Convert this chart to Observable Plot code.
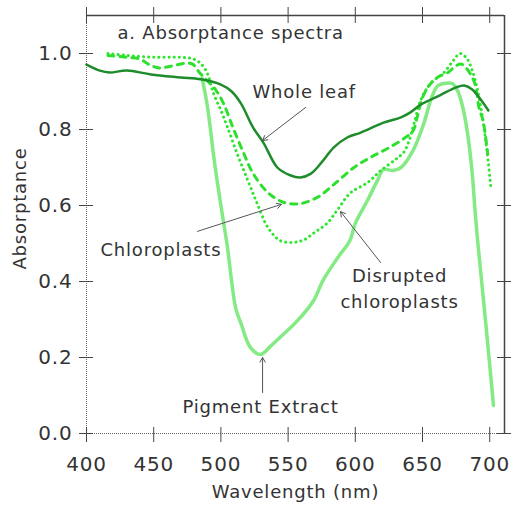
<!DOCTYPE html>
<html><head><meta charset="utf-8">
<script src="https://cdn.jsdelivr.net/npm/d3@7"></script>
<script src="https://cdn.jsdelivr.net/npm/@observablehq/plot@0.6"></script>
<style>body{margin:0;background:#fff}</style>
</head><body><div id="chart"></div>
<script>
const xTicks = [400, 450, 500, 550, 600, 650, 700];
const yTicks = [0, 0.2, 0.4, 0.6, 0.8, 1.0];
const xDomain = [400, 711];
const yDomain = [0, 1.1];

const wholeLeafNm = [400, 410, 417, 430, 448, 470, 485, 500, 508, 515, 524, 532, 542, 552, 559, 567, 576, 584, 594, 604, 621, 634, 641, 649, 663, 675, 681, 687, 693, 699];
const wholeLeafA  = [0.971, 0.955, 0.950, 0.955, 0.945, 0.937, 0.932, 0.918, 0.900, 0.868, 0.805, 0.763, 0.700, 0.679, 0.674, 0.684, 0.718, 0.753, 0.779, 0.792, 0.818, 0.832, 0.845, 0.866, 0.890, 0.911, 0.916, 0.905, 0.880, 0.850];

const chloroNm = [416, 430, 440, 446, 454, 462, 473, 479, 484, 490, 496, 502, 509, 517, 524, 535, 547, 559, 572, 584, 599, 611, 624, 636, 643, 646, 650, 655, 661, 669, 675, 679, 684, 689, 692, 695, 697, 698.5];
const chloroA  = [0.995, 0.99, 0.985, 0.972, 0.962, 0.966, 0.974, 0.972, 0.950, 0.928, 0.905, 0.868, 0.805, 0.737, 0.684, 0.634, 0.608, 0.605, 0.622, 0.655, 0.700, 0.726, 0.750, 0.776, 0.797, 0.832, 0.884, 0.916, 0.937, 0.950, 0.968, 0.972, 0.955, 0.920, 0.858, 0.824, 0.779, 0.737];

const disruptedNm = [416, 430, 450, 470, 480, 486, 490, 494.5, 500, 505, 512, 520, 527, 535, 544, 554, 562, 570, 579, 587, 596, 609, 619, 631, 636, 640, 644, 649, 656, 666, 673, 678, 683, 687, 691, 694.6, 697, 699, 701];
const disruptedA  = [1.0, 0.995, 0.99, 0.99, 0.985, 0.97, 0.947, 0.895, 0.850, 0.805, 0.737, 0.666, 0.605, 0.542, 0.508, 0.503, 0.510, 0.530, 0.553, 0.590, 0.632, 0.660, 0.692, 0.724, 0.740, 0.770, 0.820, 0.880, 0.921, 0.950, 0.982, 1.0, 0.987, 0.955, 0.903, 0.832, 0.771, 0.711, 0.640];

const pigmentNm = [486, 490, 495, 500, 505, 508, 511, 515, 522, 529.5, 537, 544, 557, 569, 576, 587, 596, 600, 609, 616.5, 621, 628, 634, 643, 651, 656, 661, 666, 672, 676, 680, 683.5, 687, 689, 691, 695.4, 699, 702.8];
const pigmentA  = [0.935, 0.86, 0.72, 0.60, 0.487, 0.40, 0.33, 0.289, 0.226, 0.208, 0.23, 0.253, 0.297, 0.35, 0.403, 0.463, 0.508, 0.553, 0.613, 0.666, 0.695, 0.692, 0.70, 0.745, 0.816, 0.876, 0.914, 0.921, 0.921, 0.903, 0.858, 0.79, 0.684, 0.59, 0.508, 0.35, 0.218, 0.074];

// labels drawn left-aligned
const startLabelText = ["a. Absorptance spectra", "Whole leaf", "Chloroplasts", "Pigment Extract"];
const startLabelNm   = [423, 523.5, 410.4, 471.4];
const startLabelA    = [1.053, 0.897, 0.482, 0.068];
// labels drawn centred
const midLabelText = ["Disrupted", "chloroplasts"];
const midLabelNm   = [632.9, 632.9];
const midLabelA    = [0.413, 0.345];

const arrowFromNm = [563, 482.6, 618.8, 531];
const arrowFromA  = [0.858, 0.532, 0.45, 0.108];
const arrowToNm   = [531, 545, 589, 531];
const arrowToA    = [0.771, 0.603, 0.584, 0.2];

const toRows = (nm, a) => nm.map((x, i) => ({x, y: a[i]}));
const toLabels = (t, nm, a) => t.map((s, i) => ({t: s, x: nm[i], y: a[i]}));
const arrows = arrowFromNm.map((x1, i) => ({x1, y1: arrowFromA[i], x2: arrowToNm[i], y2: arrowToA[i]}));

const W = 513, H = 510, ML = 86, MR = 9, MT = 15, MB = 77;
const frameW = W - ML - MR, frameH = H - MT - MB;
const ink = "#333", axisInk = "#444";
const chart = Plot.plot({
  width: W, height: H,
  marginLeft: ML, marginRight: MR, marginTop: MT, marginBottom: MB,
  style: {fontFamily: "DejaVu Sans", fontSize: "18px", letterSpacing: "0.8px", background: "#fff"},
  x: {domain: xDomain, axis: null},
  y: {domain: yDomain, axis: null},
  marks: [
    Plot.ruleX([xDomain[0]], {stroke: "#666", strokeDasharray: "1,1"}),
    Plot.ruleY([yDomain[0]], {stroke: "#666", strokeDasharray: "1,1"}),
    Plot.ruleX([xDomain[1]], {stroke: axisInk, strokeWidth: 1.5}),
    Plot.ruleY([yDomain[1]], {stroke: axisInk, strokeWidth: 1.5}),
    // crossing ticks on all four sides
    Plot.ruleX(xTicks, {stroke: axisInk, insetTop: frameH - 6, insetBottom: -9}),
    Plot.ruleX(xTicks, {stroke: axisInk, insetTop: -8, insetBottom: frameH - 8}),
    Plot.ruleY(yTicks, {stroke: axisInk, insetLeft: -7, insetRight: frameW - 7}),
    Plot.ruleY(yTicks, {stroke: axisInk, insetLeft: frameW - 7, insetRight: -7}),
    Plot.axisX(xTicks, {anchor: "bottom", tickSize: 0, tickPadding: 23, fontSize: 20, label: null, color: ink}),
    Plot.axisY(yTicks, {anchor: "left", tickSize: 0, tickPadding: 14, fontSize: 20, label: null, color: ink, tickFormat: d3.format(".1f")}),
    Plot.text(["Wavelength (nm)"], {frameAnchor: "bottom", textAnchor: "middle", lineAnchor: "middle", dy: 59, fontSize: 18, fill: ink}),
    Plot.text(["Absorptance"], {frameAnchor: "left", textAnchor: "middle", lineAnchor: "middle", dx: -66, dy: -16, rotate: -90, fontSize: 18, fill: ink}),
    Plot.line(toRows(pigmentNm, pigmentA), {x: "x", y: "y", stroke: "#84ea84", strokeWidth: 3.5, curve: "catmull-rom"}),
    Plot.line(toRows(disruptedNm, disruptedA), {x: "x", y: "y", stroke: "#2ee62e", strokeWidth: 3, strokeDasharray: "0.1,5", strokeLinecap: "round", curve: "catmull-rom"}),
    Plot.line(toRows(chloroNm, chloroA), {x: "x", y: "y", stroke: "#2ee02e", strokeWidth: 3, strokeDasharray: "6,6", curve: "catmull-rom"}),
    Plot.line(toRows(wholeLeafNm, wholeLeafA), {x: "x", y: "y", stroke: "#1f8c2c", strokeWidth: 2.5, curve: "catmull-rom"}),
    Plot.arrow(arrows, {x1: "x1", y1: "y1", x2: "x2", y2: "y2", stroke: "#555", strokeWidth: 1, headLength: 8}),
    Plot.text(toLabels(startLabelText, startLabelNm, startLabelA), {x: "x", y: "y", text: "t", textAnchor: "start", fontSize: 18, fill: ink}),
    Plot.text(toLabels(midLabelText, midLabelNm, midLabelA), {x: "x", y: "y", text: "t", textAnchor: "middle", fontSize: 18, fill: ink})
  ]
});
document.getElementById("chart").append(chart);
</script>
</body></html>
